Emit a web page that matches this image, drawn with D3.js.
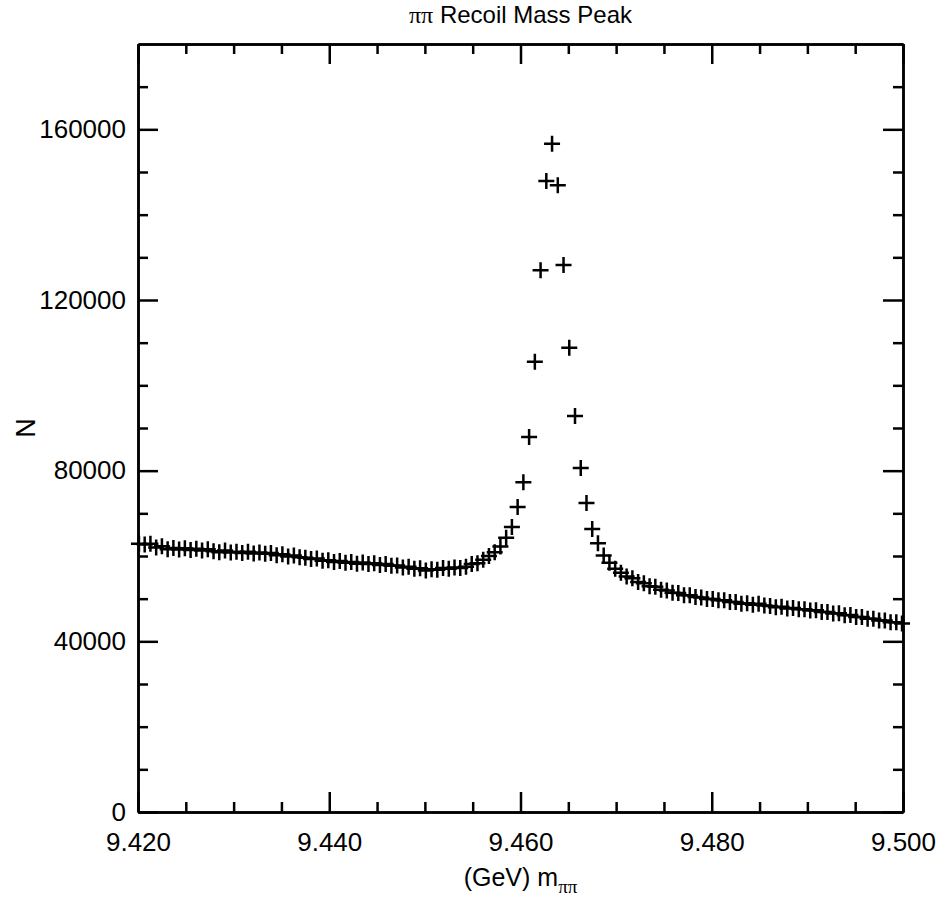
<!DOCTYPE html>
<html>
<head>
    <title>Recoil Mass Peak</title>
    <script src="https://d3js.org/d3.v7.min.js"></script>
    <style>
        body {
            margin: 0;
            background-color: #fff;
            font-family: "Liberation Sans", Arial, sans-serif;
        }
        .axis path, .axis line {
            stroke: #000;
            stroke-width: 2.5px;
        }
        .axis text {
            font-family: "Liberation Sans", Arial, sans-serif;
            font-size: 26px;
            fill: #000;
        }
        .greek {
            font-family: "Liberation Serif", "Times New Roman", serif;
        }
    </style>
</head>
<body>
    <div id="chart"></div>
    <script>
        // histogram binning (GeV)
        const binStart = 9.4201;
        const binWidth = 0.0006;

        // counts per bin
        const counts = [
            62900, 62700, 62900, 62000, 62300, 61600, 61900, 61500, 61800, 61400,
            61700, 61300, 61600, 61100, 60900, 61300, 60800, 61000, 60700, 61000,
            60600, 60800, 60500, 60700, 60200, 60400, 59900, 60100, 59700, 59600,
            59300, 59400, 58900, 59000, 58600, 58800, 58400, 58600, 58200, 58500,
            58100, 58300, 57900, 58100, 57700, 57800, 57300, 57500, 57000, 57100,
            56600, 56900, 56800, 57200, 57000, 57300, 57200, 57500, 58100, 58300,
            59100, 60000, 60900, 62200, 64300,
            66800, 71500, 77300, 87900, 105500, 127000, 147900, 156600, 146900, 128200,
            108800, 92800, 80600, 72400, 66300, 63000,
            60100, 58400, 57000, 56100, 55200, 54800, 53900, 53600, 52900, 52800,
            52100, 51900, 51400, 51300, 50800, 50800, 50400, 50300, 49900, 49900,
            49600, 49600, 49200, 49200, 48800, 48900, 48600, 48800, 48400, 48300,
            48000, 48100, 47700, 47800, 47500, 47500, 47200, 47300, 46900, 46900,
            46500, 46600, 46100, 46200, 45700, 45700, 45300, 45300, 44900, 44900,
            44500, 44500, 44200
        ];

        const xMajorTicks = [9.42, 9.44, 9.46, 9.48, 9.50];
        const xMinorTicks = [9.425, 9.43, 9.435, 9.445, 9.45, 9.455, 9.465, 9.47, 9.475, 9.485, 9.49, 9.495];
        const yMajorTicks = [0, 40000, 80000, 120000, 160000];
        const yMinorTicks = [10000, 20000, 30000, 50000, 60000, 70000, 90000, 100000, 110000,
                             130000, 140000, 150000, 170000];

        const width = 943;
        const height = 902;
        const plotLeft = 138, plotRight = 903, plotTop = 44, plotBottom = 812;

        const svg = d3.select('#chart')
            .append('svg')
            .attr('width', width)
            .attr('height', height);

        const x = d3.scaleLinear().domain([9.42, 9.50]).range([plotLeft, plotRight]);
        const y = d3.scaleLinear().domain([0, 180000]).range([plotBottom, plotTop]);

        const points = counts.map((n, i) => ({ m: binStart + i * binWidth, n: n }));

        const majorLen = 20, minorLen = 10;

        // bottom axis
        svg.append('g').attr('class', 'axis')
            .attr('transform', `translate(0,${plotBottom})`)
            .call(d3.axisBottom(x).tickValues(xMinorTicks).tickSize(-minorLen).tickSizeOuter(0).tickFormat(''));
        svg.append('g').attr('class', 'axis')
            .attr('transform', `translate(0,${plotBottom})`)
            .call(d3.axisBottom(x).tickValues(xMajorTicks).tickSize(-majorLen).tickSizeOuter(0)
                .tickPadding(21).tickFormat(d3.format('.3f')));

        // top axis
        svg.append('g').attr('class', 'axis')
            .attr('transform', `translate(0,${plotTop})`)
            .call(d3.axisTop(x).tickValues(xMinorTicks).tickSize(-minorLen).tickSizeOuter(0).tickFormat(''));
        svg.append('g').attr('class', 'axis')
            .attr('transform', `translate(0,${plotTop})`)
            .call(d3.axisTop(x).tickValues(xMajorTicks).tickSize(-majorLen).tickSizeOuter(0).tickFormat(''));

        // left axis
        svg.append('g').attr('class', 'axis')
            .attr('transform', `translate(${plotLeft},0)`)
            .call(d3.axisLeft(y).tickValues(yMinorTicks).tickSize(-minorLen).tickSizeOuter(0).tickFormat(''));
        svg.append('g').attr('class', 'axis')
            .attr('transform', `translate(${plotLeft},0)`)
            .call(d3.axisLeft(y).tickValues(yMajorTicks).tickSize(-majorLen).tickSizeOuter(0)
                .tickPadding(12).tickFormat(d3.format('d')));

        // right axis
        svg.append('g').attr('class', 'axis')
            .attr('transform', `translate(${plotRight},0)`)
            .call(d3.axisRight(y).tickValues(yMinorTicks).tickSize(-minorLen).tickSizeOuter(0).tickFormat(''));
        svg.append('g').attr('class', 'axis')
            .attr('transform', `translate(${plotRight},0)`)
            .call(d3.axisRight(y).tickValues(yMajorTicks).tickSize(-majorLen).tickSizeOuter(0).tickFormat(''));

        // data crosses
        svg.append('g')
            .selectAll('path')
            .data(points)
            .join('path')
            .attr('transform', d => `translate(${x(d.m)},${y(d.n)})`)
            .attr('d', 'M-8,0H8M0,-8V8')
            .attr('stroke', '#000')
            .attr('stroke-width', 2.5)
            .attr('fill', 'none');

        // title
        const title = svg.append('text')
            .attr('x', (plotLeft + plotRight) / 2)
            .attr('y', 23)
            .attr('text-anchor', 'middle')
            .style('font-size', '24px');
        title.append('tspan').attr('class', 'greek').text('ππ');
        title.append('tspan').text(' Recoil Mass Peak');

        // x label
        const xl = svg.append('text')
            .attr('x', (plotLeft + plotRight) / 2)
            .attr('y', 886)
            .attr('text-anchor', 'middle')
            .style('font-size', '25px');
        xl.append('tspan').text('(GeV) m');
        xl.append('tspan').attr('class', 'greek').attr('dy', 7).style('font-size', '19px').text('ππ');

        // y label
        svg.append('text')
            .attr('transform', `translate(25,${(plotTop + plotBottom) / 2}) rotate(-90)`)
            .attr('text-anchor', 'middle')
            .attr('dy', '0.36em')
            .style('font-size', '27px')
            .text('N');
    </script>
</body>
</html>
